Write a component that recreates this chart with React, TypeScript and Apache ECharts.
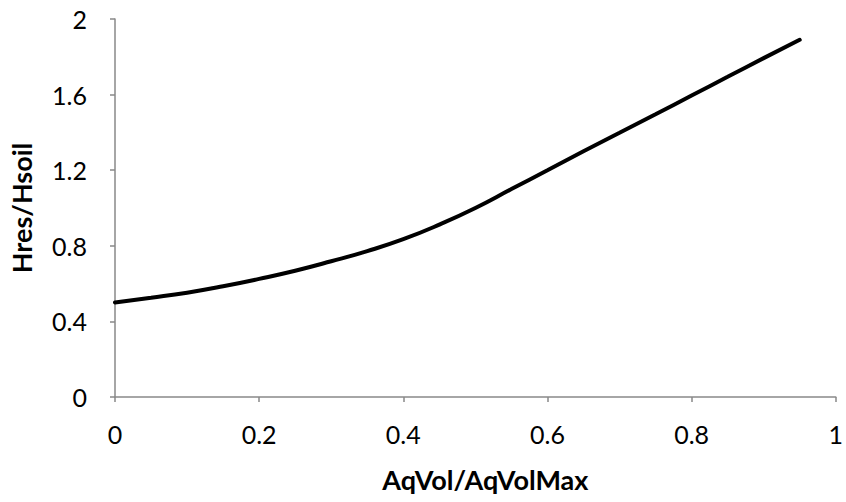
import React, { useEffect, useRef } from "react";
import * as echarts from "echarts";

const xValues = [0, 0.05, 0.1, 0.15, 0.2, 0.25, 0.3, 0.35, 0.4, 0.45, 0.5, 0.55, 0.6, 0.65, 0.7, 0.75, 0.8, 0.85, 0.9, 0.95];
const yValues = [0.5, 0.525, 0.552, 0.586, 0.625, 0.668, 0.718, 0.772, 0.835, 0.912, 1.0, 1.1, 1.2, 1.3, 1.398, 1.496, 1.595, 1.694, 1.793, 1.89];
const xAxisTitle = "AqVol/AqVolMax";
const yAxisTitle = "Hres/Hsoil";

const FONT = "Lato, 'Open Sans', sans-serif";
const AXIS_COLOR = "#898989";

export default function App() {
  const ref = useRef<HTMLDivElement>(null);
  useEffect(() => {
    if (!ref.current) return;
    const chart = echarts.init(ref.current, undefined, { renderer: "svg" });
    chart.setOption({
      animation: false,
      backgroundColor: "#ffffff",
      grid: { left: 113, right: 8, top: 19, bottom: 105, containLabel: false },
      xAxis: {
        type: "value",
        min: 0,
        max: 1,
        interval: 0.2,
        name: xAxisTitle,
        nameLocation: "middle",
        nameGap: 69,
        nameTextStyle: { fontFamily: FONT, fontSize: 27, fontWeight: "bold", color: "#000", padding: [0, 0, 0, 20] },
        axisLine: { show: true, lineStyle: { color: AXIS_COLOR, width: 1.5 } },
        axisTick: { show: true, length: 5, lineStyle: { color: AXIS_COLOR, width: 1.5 } },
        splitLine: { show: false },
        axisLabel: { fontFamily: FONT, fontSize: 25, color: "#000", margin: 24 },
      },
      yAxis: {
        type: "value",
        min: 0,
        max: 2,
        interval: 0.4,
        name: yAxisTitle,
        nameLocation: "middle",
        nameGap: 80,
        nameTextStyle: { fontFamily: FONT, fontSize: 27, fontWeight: "bold", color: "#000" },
        axisLine: { show: true, lineStyle: { color: AXIS_COLOR, width: 1.5 } },
        axisTick: { show: true, length: 5, lineStyle: { color: AXIS_COLOR, width: 1.5 } },
        splitLine: { show: false },
        axisLabel: { fontFamily: FONT, fontSize: 25, color: "#000", margin: 28 },
      },
      series: [
        {
          type: "line",
          data: xValues.map((x, i) => [x, yValues[i]]),
          smooth: true,
          showSymbol: false,
          symbol: "none",
          lineStyle: { color: "#000", width: 4, cap: "round" },
        },
      ],
    });
    return () => chart.dispose();
  }, []);
  return <div ref={ref} style={{ width: 846, height: 502, position: "absolute", left: 0, top: 0 }} />;
}
